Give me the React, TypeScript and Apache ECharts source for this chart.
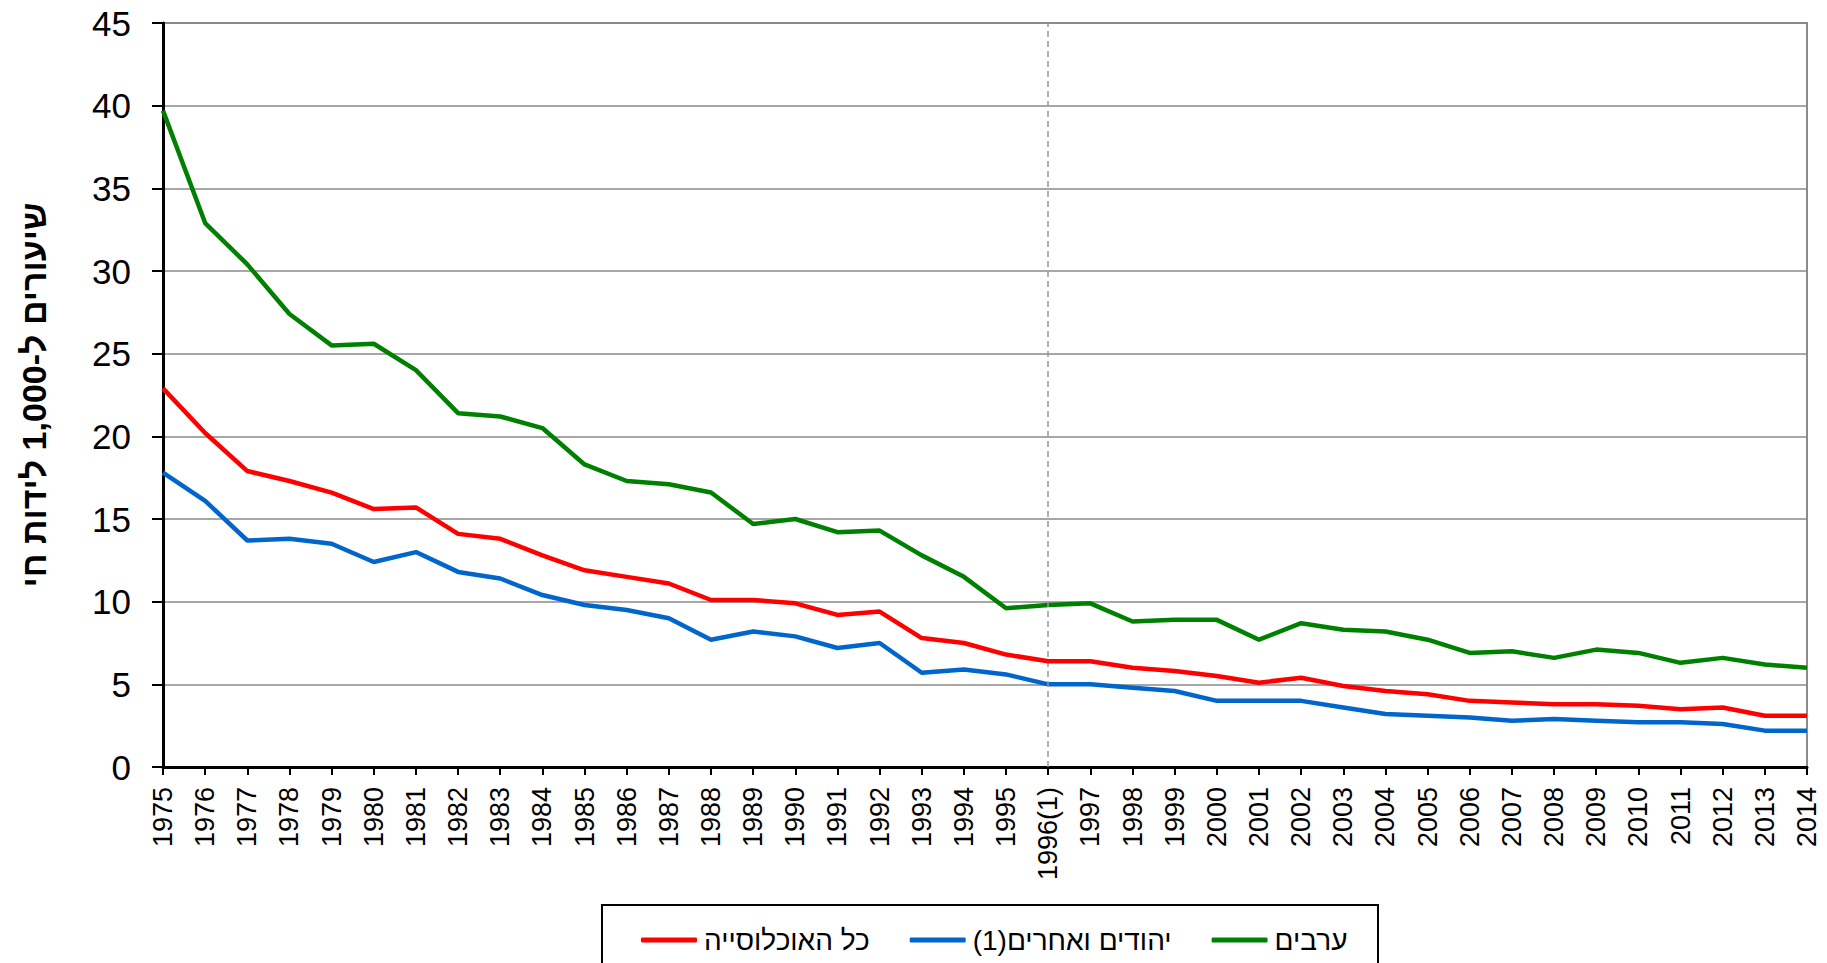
import React, { useEffect, useRef } from "react";
import * as echarts from "echarts";

const years = [
  "1975","1976","1977","1978","1979","1980","1981","1982","1983","1984",
  "1985","1986","1987","1988","1989","1990","1991","1992","1993","1994",
  "1995","1996(1)","1997","1998","1999","2000","2001","2002","2003","2004",
  "2005","2006","2007","2008","2009","2010","2011","2012","2013","2014",
];

const allPopulation = [
  22.9, 20.2, 17.9, 17.3, 16.6, 15.6, 15.7, 14.1, 13.8, 12.8,
  11.9, 11.5, 11.1, 10.1, 10.1, 9.9, 9.2, 9.4, 7.8, 7.5,
  6.8, 6.4, 6.4, 6.0, 5.8, 5.5, 5.1, 5.4, 4.9, 4.6,
  4.4, 4.0, 3.9, 3.8, 3.8, 3.7, 3.5, 3.6, 3.1, 3.1,
];

const jewsAndOthers = [
  17.8, 16.1, 13.7, 13.8, 13.5, 12.4, 13.0, 11.8, 11.4, 10.4,
  9.8, 9.5, 9.0, 7.7, 8.2, 7.9, 7.2, 7.5, 5.7, 5.9,
  5.6, 5.0, 5.0, 4.8, 4.6, 4.0, 4.0, 4.0, 3.6, 3.2,
  3.1, 3.0, 2.8, 2.9, 2.8, 2.7, 2.7, 2.6, 2.2, 2.2,
];

const arabs = [
  39.7, 32.9, 30.4, 27.4, 25.5, 25.6, 24.0, 21.4, 21.2, 20.5,
  18.3, 17.3, 17.1, 16.6, 14.7, 15.0, 14.2, 14.3, 12.8, 11.5,
  9.6, 9.8, 9.9, 8.8, 8.9, 8.9, 7.7, 8.7, 8.3, 8.2,
  7.7, 6.9, 7.0, 6.6, 7.1, 6.9, 6.3, 6.6, 6.2, 6.0,
];

const seriesNames = ["כל האוכלוסייה", "(1)יהודים ואחרים", "ערבים"];
const seriesColors = ["#ff0000", "#0066cc", "#008000"];
const yAxisTitle = "שיעורים ל-1,000 לידות חי";
const markerYear = "1996(1)";

const FONT = "'Liberation Sans', Arial, sans-serif";

export default function App() {
  const ref = useRef<HTMLDivElement>(null);

  useEffect(() => {
    document.body.style.margin = "0";
    if (!ref.current) return;
    const chart = echarts.init(ref.current, undefined, { renderer: "svg" });
    const dataSets = [allPopulation, jewsAndOthers, arabs];
    chart.setOption({
      animation: false,
      backgroundColor: "#ffffff",
      textStyle: { fontFamily: FONT },
      grid: {
        left: 163,
        right: 20,
        top: 23,
        bottom: 196,
        show: true,
        borderColor: "#8c8c8c",
        borderWidth: 2,
        backgroundColor: "transparent",
      },
      legend: {
        left: 636,
        top: 921,
        itemGap: 40,
        itemWidth: 56,
        itemHeight: 5,
        icon: "roundRect",
        textStyle: { fontSize: 28, color: "#000", fontFamily: FONT, padding: [0, 0, 0, 2] },
        data: seriesNames.map((n, i) => ({ name: n, itemStyle: { color: seriesColors[i] } })),
      },
      graphic: [
        {
          type: "rect",
          shape: { x: 602, y: 905, width: 776, height: 80 },
          style: { fill: "none", stroke: "#000", lineWidth: 2 },
          silent: true,
        },
      ],
      xAxis: {
        type: "category",
        data: years,
        boundaryGap: false,
        axisLine: { lineStyle: { color: "#000", width: 3 } },
        axisTick: { show: true, length: 8, lineStyle: { color: "#000", width: 2 }, interval: 0 },
        axisLabel: {
          rotate: 90,
          interval: 0,
          fontSize: 27,
          color: "#000",
          margin: 20,
          fontFamily: FONT,
        },
        splitLine: { show: false },
      },
      yAxis: {
        type: "value",
        min: 0,
        max: 45,
        interval: 5,
        name: yAxisTitle,
        nameLocation: "middle",
        nameRotate: 90,
        nameGap: 112,
        nameTextStyle: { fontSize: 34, fontWeight: "bold", color: "#000", fontFamily: FONT },
        axisLine: { show: true, lineStyle: { color: "#000", width: 3 } },
        axisTick: { show: true, length: 11, lineStyle: { color: "#000", width: 2 } },
        axisLabel: { fontSize: 35, color: "#000", margin: 32, fontFamily: FONT },
        splitLine: { show: true, lineStyle: { color: "#8a8a8a", width: 1.5 } },
      },
      series: seriesNames.map((name, i) => ({
        name,
        type: "line",
        data: dataSets[i],
        symbol: "none",
        lineStyle: { color: seriesColors[i], width: 4.5 },
        itemStyle: { color: seriesColors[i] },
        z: 3 + (2 - i),
        markLine:
          i === 0
            ? {
                silent: true,
                symbol: "none",
                label: { show: false },
                lineStyle: { color: "#999", type: [6, 4], width: 1.5 },
                data: [{ xAxis: markerYear }],
              }
            : undefined,
      })),
    });
    return () => chart.dispose();
  }, []);

  return (
    <div
      ref={ref}
      style={{ position: "absolute", left: 0, top: 0, width: 1827, height: 963 }}
    />
  );
}
